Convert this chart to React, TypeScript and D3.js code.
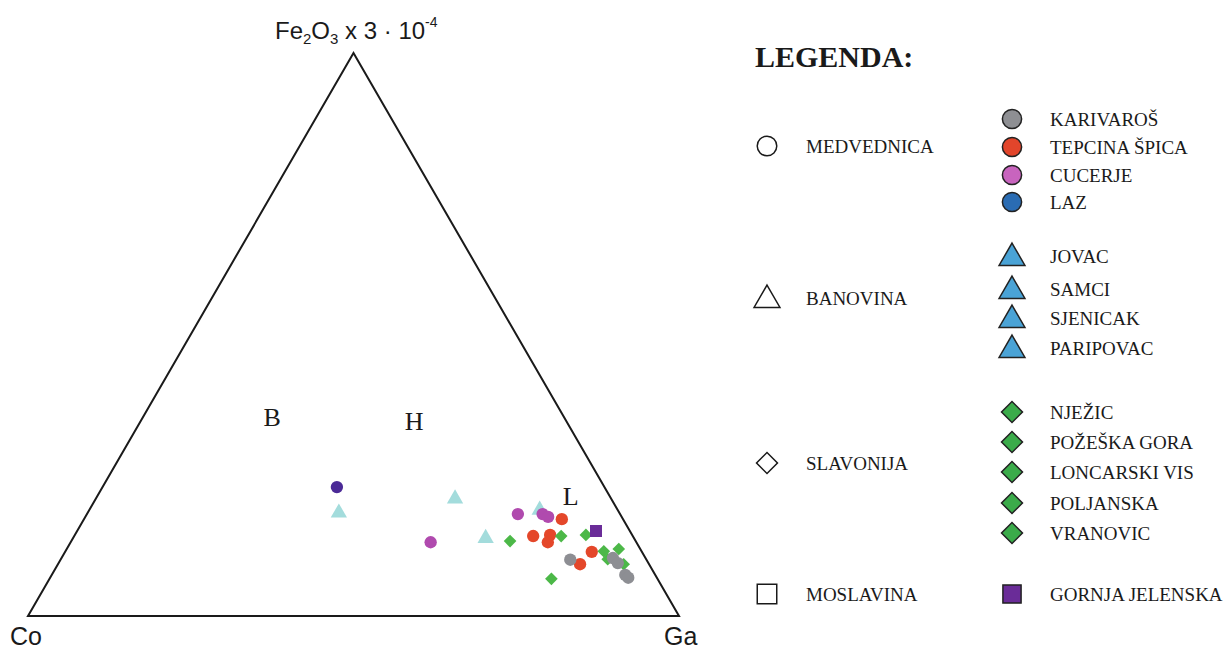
import React from "react";
import * as d3 from "d3";

// Ternary compositions (fractions): fe = Fe2O3 x 3·10^-4, co = Co, ga = Ga
const laz = [{ fe: 0.229, co: 0.411, ga: 0.360 }];
const cucerje = [
  { fe: 0.131, co: 0.316, ga: 0.553 },
  { fe: 0.181, co: 0.157, ga: 0.662 },
  { fe: 0.181, co: 0.119, ga: 0.700 },
  { fe: 0.176, co: 0.113, ga: 0.711 },
];
const tepcina = [
  { fe: 0.172, co: 0.094, ga: 0.734 },
  { fe: 0.142, co: 0.153, ga: 0.705 },
  { fe: 0.144, co: 0.126, ga: 0.730 },
  { fe: 0.131, co: 0.136, ga: 0.733 },
  { fe: 0.114, co: 0.077, ga: 0.809 },
  { fe: 0.092, co: 0.106, ga: 0.802 },
];
const karivaros = [
  { fe: 0.100, co: 0.117, ga: 0.783 },
  { fe: 0.103, co: 0.050, ga: 0.847 },
  { fe: 0.094, co: 0.047, ga: 0.859 },
  { fe: 0.073, co: 0.046, ga: 0.881 },
  { fe: 0.068, co: 0.044, ga: 0.888 },
];
const banovinaPts = [
  { fe: 0.185, co: 0.430, ga: 0.385 },
  { fe: 0.210, co: 0.239, ga: 0.551 },
  { fe: 0.140, co: 0.227, ga: 0.633 },
  { fe: 0.190, co: 0.119, ga: 0.691 },
];
const slavonijaPts = [
  { fe: 0.133, co: 0.193, ga: 0.674 },
  { fe: 0.142, co: 0.110, ga: 0.748 },
  { fe: 0.144, co: 0.071, ga: 0.785 },
  { fe: 0.115, co: 0.058, ga: 0.827 },
  { fe: 0.119, co: 0.033, ga: 0.848 },
  { fe: 0.101, co: 0.059, ga: 0.840 },
  { fe: 0.092, co: 0.039, ga: 0.869 },
  { fe: 0.066, co: 0.163, ga: 0.771 },
];
const gornjaJelenska = [{ fe: 0.151, co: 0.052, ga: 0.797 }];

const fieldLabels = [
  { text: "B", fe: 0.352, co: 0.449, ga: 0.199 },
  { text: "H", fe: 0.346, co: 0.234, ga: 0.420 },
  { text: "L", fe: 0.213, co: 0.060, ga: 0.727 },
];

const groups = ["MEDVEDNICA", "BANOVINA", "SLAVONIJA", "MOSLAVINA"];
const medvednicaNames = ["KARIVAROŠ", "TEPCINA ŠPICA", "CUCERJE", "LAZ"];
const banovinaNames = ["JOVAC", "SAMCI", "SJENICAK", "PARIPOVAC"];
const slavonijaNames = ["NJEŽIC", "POŽEŠKA GORA", "LONCARSKI VIS", "POLJANSKA", "VRANOVIC"];
const moslavinaNames = ["GORNJA JELENSKA"];

const SERIF = "'Liberation Serif', 'Times New Roman', serif";
const SANS = "'Liberation Sans', Arial, sans-serif";

export default function App() {
  const xs = d3.scaleLinear().domain([0, 1]).range([28, 679]);
  const ys = d3.scaleLinear().domain([0, 1]).range([616, 53]);
  const proj = (p: { fe: number; co: number; ga: number }) => {
    const s = p.fe + p.co + p.ga;
    const fe = p.fe / s, ga = p.ga / s;
    return [xs(ga + fe / 2), ys(fe)];
  };
  const sym = (type: any, size: number) => d3.symbol().type(type).size(size)() as string;

  const circleP = sym(d3.symbolCircle, 120);
  const triP = sym(d3.symbolTriangle, 115);
  const diaP = sym(d3.symbolSquare, 80);
  const sqP = sym(d3.symbolSquare, 144);

  const tri = [proj({ fe: 1, co: 0, ga: 0 }), proj({ fe: 0, co: 1, ga: 0 }), proj({ fe: 0, co: 0, ga: 1 })];

  const series = [
    { data: banovinaPts, path: triP, color: "#a3dcdc", rot: 0, dy: 1 },
    { data: laz, path: circleP, color: "#4b2a97", rot: 0, dy: 0 },
    { data: cucerje, path: circleP, color: "#b04aae", rot: 0, dy: 0 },
    { data: tepcina, path: circleP, color: "#e4472a", rot: 0, dy: 0 },
    { data: slavonijaPts, path: diaP, color: "#4cb848", rot: 45, dy: 0 },
    { data: karivaros, path: circleP, color: "#8d8e93", rot: 0, dy: 0 },
    { data: gornjaJelenska, path: sqP, color: "#6a2c98", rot: 0, dy: 0 },
  ];

  const legendFont = 19;
  const rightItems = [
    ...medvednicaNames.map((n, i) => ({ name: n, y: [119, 147, 175, 202][i], kind: "circle", color: ["#8e8f93", "#e2452b", "#c864be", "#2a6cb3"][i] })),
    ...banovinaNames.map((n, i) => ({ name: n, y: [256, 289, 318, 348][i], kind: "tri", color: "#4aa3d6" })),
    ...slavonijaNames.map((n, i) => ({ name: n, y: [412, 442, 472, 503, 533][i], kind: "dia", color: "#3bab4a" })),
    ...moslavinaNames.map((n) => ({ name: n, y: 594, kind: "sq", color: "#6a2c98" })),
  ];
  const groupItems = groups.map((g, i) => ({ name: g, y: [146, 298, 463, 594][i], kind: ["circle", "tri", "dia", "sq"][i] }));

  const legendPath = (kind: string, big: boolean) => {
    if (kind === "circle") return sym(d3.symbolCircle, big ? 300 : 290);
    if (kind === "tri") return sym(d3.symbolTriangle, 290);
    if (kind === "dia") return sym(d3.symbolSquare, 220);
    return sym(d3.symbolSquare, big ? 380 : 330);
  };

  return (
    <svg width={1226} height={649} style={{ position: "absolute", left: 0, top: 0, background: "#fff" }}>
      <polygon points={tri.map((p) => p.join(",")).join(" ")} fill="none" stroke="#1a1a1a" strokeWidth={2} strokeLinejoin="miter" />
      <text x={275} y={39} fontFamily={SANS} fontSize={24} fill="#1a1a1a">
        Fe<tspan fontSize={15} dy={5}>2</tspan><tspan dy={-5}>O</tspan><tspan fontSize={15} dy={5}>3</tspan>
        <tspan dy={-5} fontSize={24}> x 3 · 10</tspan><tspan fontSize={14} dy={-12}>-4</tspan>
      </text>
      <text x={10} y={645} fontFamily={SANS} fontSize={25} fill="#1a1a1a">Co</text>
      <text x={664} y={645} fontFamily={SANS} fontSize={25} fill="#1a1a1a">Ga</text>
      {fieldLabels.map((f) => {
        const [x, y] = proj(f);
        return (
          <text key={f.text} x={x} y={y} textAnchor="middle" dominantBaseline="central" fontFamily={SERIF} fontSize={26} fill="#1a1a1a">{f.text}</text>
        );
      })}
      {series.map((s, si) =>
        s.data.map((p, i) => {
          const [x, y] = proj(p);
          return <path key={si + "-" + i} d={s.path} fill={s.color} transform={`translate(${x},${y + s.dy}) rotate(${s.rot})`} />;
        })
      )}
      <text x={755} y={67} fontFamily={SERIF} fontSize={30} fontWeight="bold" fill="#1a1a1a">LEGENDA:</text>
      {groupItems.map((g) => (
        <g key={g.name}>
          <path d={legendPath(g.kind, true)} fill="none" stroke="#1a1a1a" strokeWidth={1.5} transform={`translate(767,${g.y + (g.kind === "tri" ? 2 : 0)}) rotate(${g.kind === "dia" ? 45 : 0})`} />
          <text x={806} y={g.y} dominantBaseline="central" fontFamily={SERIF} fontSize={legendFont} fill="#1a1a1a">{g.name}</text>
        </g>
      ))}
      {rightItems.map((it) => (
        <g key={it.name}>
          <path d={legendPath(it.kind, false)} fill={it.color} stroke="#222" strokeWidth={1.5} transform={`translate(1012,${it.y + (it.kind === "tri" ? 2 : 0)}) rotate(${it.kind === "dia" ? 45 : 0})`} />
          <text x={1050} y={it.y} dominantBaseline="central" fontFamily={SERIF} fontSize={legendFont} fill="#1a1a1a">{it.name}</text>
        </g>
      ))}
    </svg>
  );
}
